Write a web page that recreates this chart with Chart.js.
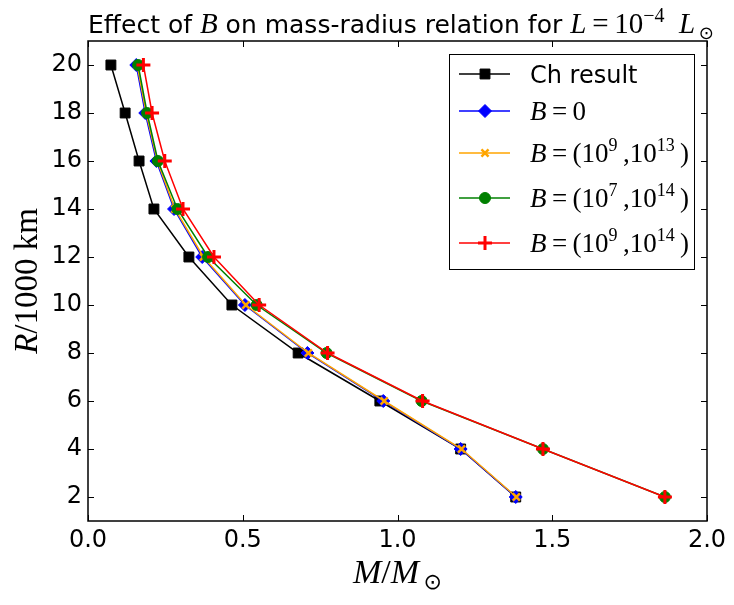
<!DOCTYPE html>
<html><head><meta charset="utf-8">
<script src="https://cdn.jsdelivr.net/npm/chart.js@4"></script>
<style>html,body{margin:0;padding:0;background:#fff}canvas{display:block}</style>
</head><body>
<canvas id="c" width="734" height="605"></canvas>
<script>
// Data (R in 1000 km, M in solar masses)
const radius   = [2, 4, 6, 8, 10, 12, 14, 16, 18, 20];
const massCh   = [1.382, 1.204, 0.943, 0.679, 0.465, 0.326, 0.213, 0.165, 0.120, 0.074];
const massB0   = [1.382, 1.204, 0.954, 0.709, 0.507, 0.369, 0.278, 0.221, 0.185, 0.156];
const massB913 = [1.384, 1.207, 0.957, 0.712, 0.510, 0.373, 0.281, 0.224, 0.188, 0.159];
const massB714 = [1.864, 1.470, 1.078, 0.771, 0.545, 0.388, 0.289, 0.226, 0.191, 0.162];
const massB914 = [1.864, 1.470, 1.081, 0.774, 0.553, 0.407, 0.307, 0.248, 0.207, 0.179];
const xTicks = [0.0, 0.5, 1.0, 1.5, 2.0];
const yTicks = [2, 4, 6, 8, 10, 12, 14, 16, 18, 20];

const SANS = '"DejaVu Sans"';
const SERIF = '"Liberation Serif"';
const pts = m => m.map((v, i) => ({x: v, y: radius[i]}));

const seriesDefs = [
  {label: 'Ch result', data: massCh, color: '#000000', style: 'rect', r: 7, bw: 1, order: 4},
  {label: 'B0', data: massB0, color: '#0000ff', style: 'rectRot', r: 6.5, bw: 1, order: 3},
  {label: 'B913', data: massB913, color: '#ffa500', style: 'crossRot', r: 5, bw: 2.5, order: 2},
  {label: 'B714', data: massB714, color: '#008000', style: 'circle', r: 5.5, bw: 1, order: 1},
  {label: 'B914', data: massB914, color: '#ff0000', style: 'cross', r: 7, bw: 3, order: 0}
];

function rich(ctx, x, y, parts, align) {
  let w = 0;
  parts.forEach(p => { ctx.font = p[1]; w += ctx.measureText(p[0]).width; });
  let cx = align === 'center' ? x - w / 2 : x;
  parts.forEach(p => {
    ctx.font = p[1];
    ctx.fillText(p[0], cx, y + (p[2] || 0));
    cx += ctx.measureText(p[0]).width;
  });
}
const MI = s => 'italic ' + s + 'px ' + SERIF;
const MR = s => s + 'px ' + SERIF;
const SN = s => s + 'px ' + SANS;

const legendLabels = [
  [['Ch result', SN(24)]],
  [['B', MI(27)], ['\u2009=\u20090', MR(27)]],
  [['B', MI(27)], ['\u2009=\u2009(10', MR(27)], ['9', MR(18), -11], ['\u2009,10', MR(27)], ['13', MR(18), -11], ['\u2009)', MR(27)]],
  [['B', MI(27)], ['\u2009=\u2009(10', MR(27)], ['7', MR(18), -11], ['\u2009,10', MR(27)], ['14', MR(18), -11], ['\u2009)', MR(27)]],
  [['B', MI(27)], ['\u2009=\u2009(10', MR(27)], ['9', MR(18), -11], ['\u2009,10', MR(27)], ['14', MR(18), -11], ['\u2009)', MR(27)]]
];
const legendRowsY = [74, 111, 153, 198, 243];

const decor = {
  id: 'decor',
  afterDraw(chart) {
    const ctx = chart.ctx;
    const a = chart.chartArea;
    const xs = chart.scales.x, ys = chart.scales.y;
    ctx.save();
    ctx.strokeStyle = '#000'; ctx.lineWidth = 1;
    ctx.beginPath();
    xTicks.forEach(v => {
      const px = Math.round(xs.getPixelForValue(v)) + 0.5;
      ctx.moveTo(px, a.bottom); ctx.lineTo(px, a.bottom - 6);
      ctx.moveTo(px, a.top); ctx.lineTo(px, a.top + 6);
    });
    yTicks.forEach(v => {
      const py = Math.round(ys.getPixelForValue(v)) + 0.5;
      ctx.moveTo(a.left, py); ctx.lineTo(a.left + 6, py);
      ctx.moveTo(a.right, py); ctx.lineTo(a.right - 6, py);
    });
    ctx.stroke();
    ctx.lineWidth = 1.5;
    ctx.strokeRect(a.left, a.top, a.right - a.left, a.bottom - a.top);

    ctx.fillStyle = '#000';
    ctx.textBaseline = 'alphabetic';
    ctx.textAlign = 'left';
    // title
    rich(ctx, 88, 33, [
      ['Effect of ', SN(25)], ['B', MI(29)], [' on mass-radius relation for ', SN(25)],
      ['L', MI(29)], ['\u2009=\u200910', MR(29)], ['\u22124', MR(20), -11], ['  ', MR(29)],
      ['L', MI(29)], ['\u2009\u2299', SN(18), 6]
    ]);
    // x axis title
    rich(ctx, (a.left + a.right) / 2, 583, [
      ['M', MI(34)], ['/', MR(34)], ['M', MI(34)], ['\u2009\u2299', SN(22), 6]
    ], 'center');
    // y axis title
    ctx.save();
    ctx.translate(37, (a.top + a.bottom) / 2);
    ctx.rotate(-Math.PI / 2);
    rich(ctx, 0, 0, [['R', MI(33)], ['/1000 km', MR(33)]], 'center');
    ctx.restore();

    // legend
    const L = {x: 449, y: 54, w: 245, h: 215};
    ctx.fillStyle = '#fff';
    ctx.fillRect(L.x, L.y, L.w, L.h);
    ctx.lineWidth = 1; ctx.strokeStyle = '#000';
    ctx.strokeRect(L.x + 0.5, L.y + 0.5, L.w, L.h);
    seriesDefs.forEach((s, i) => {
      const yy = legendRowsY[i];
      ctx.strokeStyle = s.color; ctx.lineWidth = 1.5;
      ctx.beginPath(); ctx.moveTo(459, yy); ctx.lineTo(510, yy); ctx.stroke();
      ctx.fillStyle = s.color; ctx.strokeStyle = s.color; ctx.lineWidth = s.bw;
      Chart.helpers.drawPoint(ctx, {pointStyle: s.style, radius: s.r, rotation: 0, borderWidth: s.bw}, 485, yy);
      ctx.fillStyle = '#000';
      rich(ctx, 530, yy + 9, legendLabels[i]);
    });
    ctx.restore();
  }
};

new Chart(document.getElementById('c'), {
  type: 'line',
  data: {
    datasets: seriesDefs.map(s => ({
      label: s.label,
      data: pts(s.data),
      borderColor: s.color,
      backgroundColor: s.color,
      pointBackgroundColor: s.color,
      pointBorderColor: s.color,
      pointStyle: s.style,
      pointRadius: s.r,
      pointBorderWidth: s.bw,
      borderWidth: 1.5,
      tension: 0,
      fill: false,
      order: s.order
    }))
  },
  options: {
    responsive: false,
    animation: false,
    devicePixelRatio: 1,
    layout: {padding: {top: 41, right: 27, left: 0, bottom: 0}},
    plugins: {legend: {display: false}, tooltip: {enabled: false}, title: {display: false}},
    scales: {
      x: {
        type: 'linear', min: 0, max: 2,
        afterBuildTicks: s => { s.ticks = xTicks.map(v => ({value: v})); },
        afterFit: s => { s.height = 84; },
        grid: {display: false, drawTicks: false},
        border: {display: false},
        ticks: {color: '#000', font: {family: 'DejaVu Sans', size: 24}, padding: 5,
                maxRotation: 0, autoSkip: false, callback: v => Number(v).toFixed(1)}
      },
      y: {
        type: 'linear', min: 1, max: 21,
        afterBuildTicks: s => { s.ticks = yTicks.map(v => ({value: v})); },
        afterFit: s => { s.width = 88; },
        grid: {display: false, drawTicks: false},
        border: {display: false},
        ticks: {color: '#000', font: {family: 'DejaVu Sans', size: 24}, padding: 6,
                autoSkip: false, callback: v => String(v)}
      }
    }
  },
  plugins: [decor]
});
</script>
</body></html>
